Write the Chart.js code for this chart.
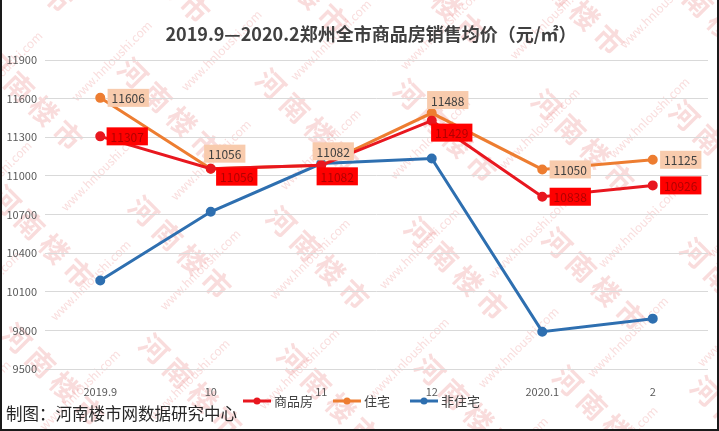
<!DOCTYPE html>
<html lang="zh-CN">
<head>
<meta charset="UTF-8">
<title>2019.9—2020.2郑州全市商品房销售均价</title>
<script src="https://cdn.jsdelivr.net/npm/chart.js"></script>
<style>
html,body{margin:0;padding:0;background:#fff}
#box{position:relative;width:719px;height:431px}
canvas{position:absolute;left:0;top:0}
</style>
</head>
<body>
<div id="box"><canvas id="c" width="719" height="431"></canvas></div>
<script>
/* 数据 */
const months = ['2019.9','10','11','12','2020.1','2'];
const spf   = [11307,11056,11082,11429,10838,10926];   // 商品房
const zz    = [11606,11056,11082,11488,11050,11125];   // 住宅
const fzz   = [10187,10721,11096,11135,9790,9891];     // 非住宅
const yTicks = [9500,9800,10100,10400,10700,11000,11300,11600,11900];

const titleText = '2019.9—2020.2郑州全市商品房销售均价（元/㎡）';
const footText = '制图：河南楼市网数据研究中心';
const CJK = '"Noto Sans CJK SC","Noto Sans",sans-serif';

/* 标签相对数据点的偏移 */
const lblOff = {
  0: [[27,0],[26,8],[16,11],[20,12],[28,0],[28,0]],
  1: [[28,0],[14,-15],[12,-14],[16,-13],[28,0],[28,0]]
};
const lblStyle = {
  0: {bg:'#ff0000', fg:'#b30000'},
  1: {bg:'#f8cbad', fg:'#404040'}
};

const deco = {
  id:'deco',
  beforeDraw(chart){
    const ctx=chart.ctx, w=chart.width, h=chart.height;
    ctx.save();
    ctx.fillStyle='#fff'; ctx.fillRect(0,0,w,h);
    // 水印
    ctx.translate(w/2,h/2);
    ctx.save();
    ctx.rotate(Math.PI/4);
    ctx.font='bold 28px '+CJK;
    ctx.fillStyle='rgba(236,140,140,0.3)';
    let r=0;
    for(let y=-560;y<=560;y+=90,r++){
      for(let x=-800;x<=800;x+=210){
        ctx.fillText('河 南 楼 市', x+(r%2?105:0), y);
      }
    }
    ctx.restore();
    ctx.rotate(-Math.PI/4);
    ctx.font='12px '+CJK;
    ctx.fillStyle='rgba(236,150,150,0.32)';
    r=0;
    for(let y=-560;y<=560;y+=70,r++){
      for(let x=-800;x<=800;x+=170){
        ctx.fillText('www.hnloushi.com', x+(r%2?85:0), y);
      }
    }
    ctx.restore();
  },
  afterDatasetsDraw(chart){
    const ctx=chart.ctx;
    ctx.save();
    ctx.font='12px '+CJK;
    ctx.textAlign='center'; ctx.textBaseline='middle';
    [0,1].forEach(di=>{
      const meta=chart.getDatasetMeta(di);
      const vals=chart.data.datasets[di].data;
      meta.data.forEach((p,i)=>{
        const [dx,dy]=lblOff[di][i];
        const cx=p.x+dx, cy=p.y+dy;
        const t=String(vals[i]);
        const tw=ctx.measureText(t).width+8;
        ctx.fillStyle=lblStyle[di].bg;
        ctx.fillRect(cx-tw/2,cy-9,tw,18);
        ctx.fillStyle=lblStyle[di].fg;
        ctx.fillText(t,cx,cy+1);
      });
    });
    ctx.restore();
  },
  afterDraw(chart){
    const ctx=chart.ctx, w=chart.width, h=chart.height;
    ctx.save();
    // 标题
    ctx.font='bold 18px '+CJK;
    ctx.fillStyle='#404040';
    ctx.textAlign='center'; ctx.textBaseline='middle';
    ctx.fillText(titleText,371,34);
    // 图例
    ctx.font='13px '+CJK;
    ctx.textAlign='left';
    let x=243;
    chart.data.datasets.forEach(ds=>{
      ctx.strokeStyle=ds.borderColor; ctx.lineWidth=3;
      ctx.beginPath(); ctx.moveTo(x,401); ctx.lineTo(x+28,401); ctx.stroke();
      ctx.fillStyle=ds.borderColor;
      ctx.beginPath(); ctx.arc(x+14,401,3.5,0,Math.PI*2); ctx.fill();
      ctx.fillStyle='#404040';
      ctx.fillText(ds.label,x+31,401);
      x+=31+ctx.measureText(ds.label).width+20;
    });
    // 制图
    ctx.font='16.5px '+CJK;
    ctx.fillStyle='#262626';
    ctx.fillText(footText,6,414);
    // 边框
    ctx.strokeStyle='#1a1a1a'; ctx.lineWidth=2;
    ctx.beginPath();
    ctx.moveTo(1,0); ctx.lineTo(1,h-1); ctx.lineTo(w-1,h-1); ctx.lineTo(w-1,0);
    ctx.stroke();
    ctx.restore();
  }
};

const mk=(label,data,color)=>({label,data,borderColor:color,backgroundColor:color,
  borderWidth:3,pointRadius:3.5,pointHoverRadius:3.5,tension:0});

new Chart(document.getElementById('c'),{
  type:'line',
  data:{labels:months,datasets:[
    mk('商品房',spf,'#e8171f'),
    mk('住宅',zz,'#ed7d31'),
    mk('非住宅',fzz,'#2e6fb0')
  ]},
  options:{
    responsive:false,animation:false,
    layout:{padding:{left:0,right:11,top:60,bottom:0}},
    plugins:{legend:{display:false},title:{display:false},tooltip:{enabled:false}},
    scales:{
      x:{offset:true,grid:{display:false,offset:true},border:{display:false},
         ticks:{color:'#595959',font:{family:CJK,size:11},padding:8,maxRotation:0},
         afterFit(s){s.height=62;}},
      y:{min:9500,max:11900,
         afterBuildTicks(s){s.ticks=yTicks.map(v=>({value:v}));},
         grid:{color:'#d9d9d9',drawTicks:false},border:{display:false},
         ticks:{color:'#595959',font:{family:CJK,size:11},padding:8,callback:v=>String(v)},
         afterFit(s){s.width=45;}}
    }
  },
  plugins:[deco]
});
</script>
</body>
</html>
